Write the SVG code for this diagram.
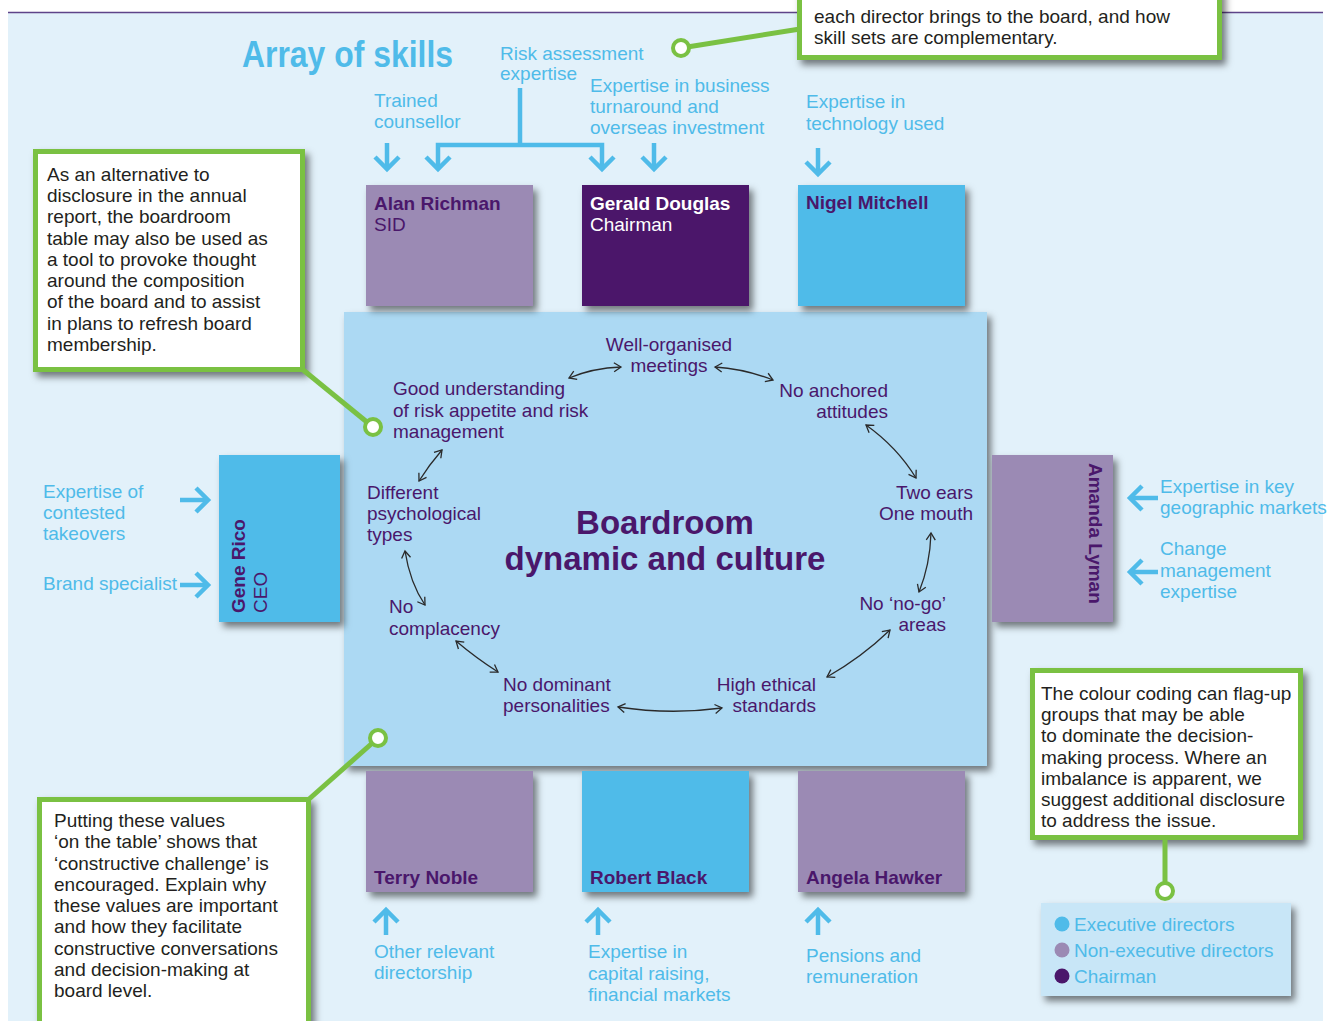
<svg xmlns="http://www.w3.org/2000/svg" width="1338" height="1021" viewBox="0 0 1338 1021">
<defs>
<filter id="sh" x="-20%" y="-20%" width="150%" height="150%"><feDropShadow dx="4" dy="5" stdDeviation="3.5" flood-color="#000" flood-opacity="0.5"/></filter>
<marker id="bh" markerUnits="userSpaceOnUse" viewBox="-16 -16 32 32" markerWidth="32" markerHeight="32" refX="0" refY="0" orient="auto"><path d="M-12,-12 L0,0 L-12,12" fill="none" stroke="#4fbbe9" stroke-width="4.5"/></marker>
<marker id="ah" markerUnits="userSpaceOnUse" viewBox="-10 -10 20 20" markerWidth="20" markerHeight="20" refX="0" refY="0" orient="auto-start-reverse"><path d="M-7,-4.5 L0,0 L-7,4.5" fill="none" stroke="#2a2a2a" stroke-width="1.3"/></marker>
<style>
text{font-family:"Liberation Sans",Arial,Helvetica,sans-serif;font-size:19px}
.body{fill:#231f20}
.sk{fill:#4fbbe9}
.val{fill:#4a176b}
.nm{font-weight:bold;fill:#4a176b}
.nmw{font-weight:bold;fill:#ffffff}
.rl{fill:#4a176b}
.rlw{fill:#ffffff}
.end{text-anchor:end}
.mid{text-anchor:middle}
.call{fill:#fff;stroke:#7ac143;stroke-width:5}
.gl{stroke:#7ac143;stroke-width:5;fill:none}
.dot{fill:#fff;stroke:#7ac143;stroke-width:4}
.ba{stroke:#4fbbe9;stroke-width:4.5;fill:none;marker-end:url(#bh)}
.bl{stroke:#4fbbe9;stroke-width:4.5;fill:none}
.da{stroke:#2a2a2a;stroke-width:1.3;fill:none;marker-start:url(#ah);marker-end:url(#ah)}
.exec{fill:#4fbbe9}
.ned{fill:#9b8ab4}
.chair{fill:#4b176b}
</style>
</defs>

<rect x="0" y="0" width="1338" height="1021" fill="#ffffff"/>
<rect x="8" y="13" width="1315" height="1008" fill="#e2f1fa"/>
<line x1="8" y1="12.5" x2="1323" y2="12.5" stroke="#5e4489" stroke-width="1.5"/>

<text x="242" y="67" font-size="36" font-weight="bold" fill="#4fbbe9" textLength="211" lengthAdjust="spacingAndGlyphs" style="font-size:36px">Array of skills</text>

<!-- table -->
<g id="table">
<rect x="344" y="312" width="643" height="454" fill="#acd9f3" filter="url(#sh)"/>
<text class="mid" x="665" y="534" style="font-size:33px;font-weight:bold;fill:#4a176b">Boardroom</text>
<text class="mid" x="665" y="570" style="font-size:33px;font-weight:bold;fill:#4a176b">dynamic and culture</text>
</g>

<!-- values -->
<g id="v-meetings"><text class="val mid" x="669" y="351">Well-organised</text><text class="val mid" x="669" y="372">meetings</text></g>
<g id="v-risk"><text class="val" x="393" y="395">Good understanding</text><text class="val" x="393" y="417">of risk appetite and risk</text><text class="val" x="393" y="438">management</text></g>
<g id="v-anchored"><text class="val end" x="888" y="397">No anchored</text><text class="val end" x="888" y="418">attitudes</text></g>
<g id="v-types"><text class="val" x="367" y="499">Different</text><text class="val" x="367" y="520">psychological</text><text class="val" x="367" y="541">types</text></g>
<g id="v-ears"><text class="val end" x="973" y="499">Two ears</text><text class="val end" x="973" y="520">One mouth</text></g>
<g id="v-complacency"><text class="val" x="389" y="613">No</text><text class="val" x="389" y="635">complacency</text></g>
<g id="v-nogo"><text class="val end" x="946" y="610">No ‘no-go’</text><text class="val end" x="946" y="631">areas</text></g>
<g id="v-dominant"><text class="val" x="503" y="691">No dominant</text><text class="val" x="503" y="712">personalities</text></g>
<g id="v-ethical"><text class="val end" x="816" y="691">High ethical</text><text class="val end" x="816" y="712">standards</text></g>

<!-- director boxes -->
<g id="alan"><rect x="366" y="185" width="167" height="121" class="ned" filter="url(#sh)"/><text class="nm" x="374" y="210">Alan Richman</text><text class="rl" x="374" y="231">SID</text></g>
<g id="gerald"><rect x="582" y="185" width="167" height="121" class="chair" filter="url(#sh)"/><text class="nmw" x="590" y="210">Gerald Douglas</text><text class="rlw" x="590" y="231">Chairman</text></g>
<g id="nigel"><rect x="798" y="185" width="167" height="121" class="exec" filter="url(#sh)"/><text class="nm" x="806" y="209">Nigel Mitchell</text></g>
<g id="gene"><rect x="219" y="455" width="121" height="167" class="exec" filter="url(#sh)"/><text class="nm" transform="translate(245,613) rotate(-90)">Gene Rico</text><text class="rl" transform="translate(267,613) rotate(-90)">CEO</text></g>
<g id="amanda"><rect x="992" y="455" width="121" height="167" class="ned" filter="url(#sh)"/><text class="nm" transform="translate(1089,463) rotate(90)">Amanda Lyman</text></g>
<g id="terry"><rect x="366" y="771" width="167" height="121" class="ned" filter="url(#sh)"/><text class="nm" x="374" y="884">Terry Noble</text></g>
<g id="robert"><rect x="582" y="771" width="167" height="121" class="exec" filter="url(#sh)"/><text class="nm" x="590" y="884">Robert Black</text></g>
<g id="angela"><rect x="798" y="771" width="167" height="121" class="ned" filter="url(#sh)"/><text class="nm" x="806" y="884">Angela Hawker</text></g>

<!-- skill labels -->
<g id="s-counsellor"><text class="sk" x="374" y="107">Trained</text><text class="sk" x="374" y="128">counsellor</text></g>
<g id="s-riskexp"><text class="sk" x="500" y="60">Risk assessment</text><text class="sk" x="500" y="80">expertise</text></g>
<g id="s-turnaround"><text class="sk" x="590" y="92">Expertise in business</text><text class="sk" x="590" y="113">turnaround and</text><text class="sk" x="590" y="134">overseas investment</text></g>
<g id="s-technology"><text class="sk" x="806" y="108">Expertise in</text><text class="sk" x="806" y="130">technology used</text></g>
<g id="s-takeovers"><text class="sk" x="43" y="498">Expertise of</text><text class="sk" x="43" y="519">contested</text><text class="sk" x="43" y="540">takeovers</text></g>
<g id="s-brand"><text class="sk" x="43" y="590">Brand specialist</text></g>
<g id="s-geographic"><text class="sk" x="1160" y="493">Expertise in key</text><text class="sk" x="1160" y="514">geographic markets</text></g>
<g id="s-change"><text class="sk" x="1160" y="555">Change</text><text class="sk" x="1160" y="577">management</text><text class="sk" x="1160" y="598">expertise</text></g>
<g id="s-directorship"><text class="sk" x="374" y="958">Other relevant</text><text class="sk" x="374" y="979">directorship</text></g>
<g id="s-capital"><text class="sk" x="588" y="958">Expertise in</text><text class="sk" x="588" y="980">capital raising,</text><text class="sk" x="588" y="1001">financial markets</text></g>
<g id="s-pensions"><text class="sk" x="806" y="962">Pensions and</text><text class="sk" x="806" y="983">remuneration</text></g>

<!-- callouts -->
<g id="callout-top"><rect x="799.5" y="-10" width="420" height="67.5" class="call" filter="url(#sh)"/><text class="body" x="814" y="23">each director brings to the board, and how</text><text class="body" x="814" y="44">skill sets are complementary.</text></g>
<g id="callout-left"><rect x="35.5" y="151.5" width="267" height="218" class="call" filter="url(#sh)"/>
<text class="body" x="47" y="181">As an alternative to</text>
<text class="body" x="47" y="202">disclosure in the annual</text>
<text class="body" x="47" y="223">report, the boardroom</text>
<text class="body" x="47" y="245">table may also be used as</text>
<text class="body" x="47" y="266">a tool to provoke thought</text>
<text class="body" x="47" y="287">around the composition</text>
<text class="body" x="47" y="308">of the board and to assist</text>
<text class="body" x="47" y="330">in plans to refresh board</text>
<text class="body" x="47" y="351">membership.</text></g>
<g id="callout-bottom"><rect x="39.5" y="799.5" width="269" height="235" class="call" filter="url(#sh)"/>
<text class="body" x="54" y="827">Putting these values</text>
<text class="body" x="54" y="848">‘on the table’ shows that</text>
<text class="body" x="54" y="870">‘constructive challenge’ is</text>
<text class="body" x="54" y="891">encouraged. Explain why</text>
<text class="body" x="54" y="912">these values are important</text>
<text class="body" x="54" y="933">and how they facilitate</text>
<text class="body" x="54" y="955">constructive conversations</text>
<text class="body" x="54" y="976">and decision-making at</text>
<text class="body" x="54" y="997">board level.</text></g>
<g id="callout-right"><rect x="1032.5" y="670.5" width="268" height="167" class="call" filter="url(#sh)"/>
<text class="body" x="1041" y="700">The colour coding can flag-up</text>
<text class="body" x="1041" y="721">groups that may be able</text>
<text class="body" x="1041" y="742">to dominate the decision-</text>
<text class="body" x="1041" y="764">making process. Where an</text>
<text class="body" x="1041" y="785">imbalance is apparent, we</text>
<text class="body" x="1041" y="806">suggest additional disclosure</text>
<text class="body" x="1041" y="827">to address the issue.</text></g>

<!-- legend -->
<g id="legend"><rect x="1041" y="903" width="250" height="93" fill="#c8e6f7" filter="url(#sh)"/>
<circle cx="1062" cy="924" r="7.5" class="exec"/><text class="sk" x="1074" y="931">Executive directors</text>
<circle cx="1062" cy="950" r="7.5" class="ned"/><text class="sk" x="1074" y="957">Non-executive directors</text>
<circle cx="1062" cy="976" r="7.5" class="chair"/><text class="sk" x="1074" y="983">Chairman</text></g>

<g id="connectors">
<!-- green callout pointers -->
<line class="gl" x1="681" y1="48" x2="800" y2="29"/>
<line class="gl" x1="302" y1="369" x2="373" y2="427"/>
<line class="gl" x1="308" y1="800" x2="378" y2="738"/>
<line class="gl" x1="1165" y1="838" x2="1165" y2="891"/>
<circle class="dot" cx="681" cy="48" r="8"/>
<circle class="dot" cx="373" cy="427" r="8"/>
<circle class="dot" cx="378" cy="738" r="8"/>
<circle class="dot" cx="1165" cy="891" r="8"/>
<!-- skill arrows -->
<path class="ba" d="M387,143 V169"/>
<path class="bl" d="M520,88 V145"/>
<path class="ba" d="M520,145 H438 V169"/>
<path class="ba" d="M520,145 H602 V169"/>
<path class="ba" d="M654,143 V169"/>
<path class="ba" d="M818,148 V174"/>
<path class="ba" d="M180,500 H208"/>
<path class="ba" d="M180,585 H208"/>
<path class="ba" d="M1158,498 H1130"/>
<path class="ba" d="M1158,572 H1130"/>
<path class="ba" d="M386,935 V910"/>
<path class="ba" d="M598,935 V910"/>
<path class="ba" d="M818,935 V910"/>
<!-- value cycle arrows -->
<path class="da" d="M569,378 Q593,368 621,367"/>
<path class="da" d="M715,367 Q745,369 773,380"/>
<path class="da" d="M866,425 Q897,447 916,478"/>
<path class="da" d="M442,450 Q429,465 419,481"/>
<path class="da" d="M931,533 Q930,565 919,592"/>
<path class="da" d="M405,551 Q410,583 425,605"/>
<path class="da" d="M456,641 Q476,658 498,672"/>
<path class="da" d="M618,707 Q670,715 722,708"/>
<path class="da" d="M827,677 Q862,657 890,630"/>
</g>
</svg>
